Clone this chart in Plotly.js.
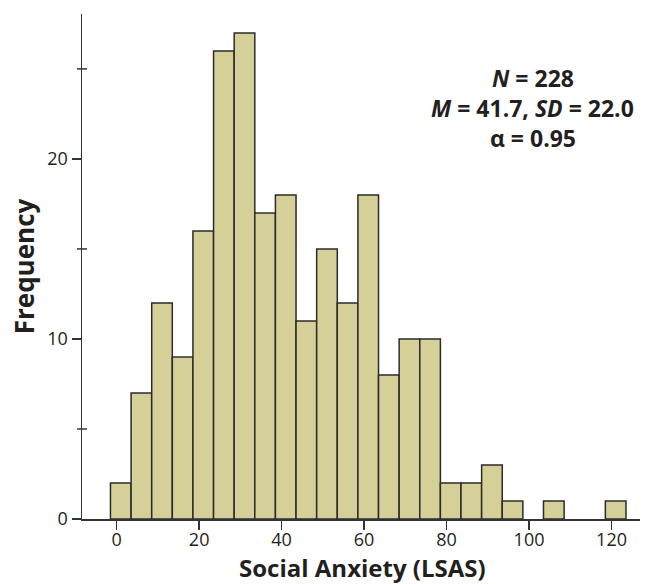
<!DOCTYPE html>
<html>
<head>
<meta charset="utf-8">
<script src="https://cdn.plot.ly/plotly-3.0.1.min.js"></script>
<style>html,body{margin:0;padding:0;background:#fff;}#chart{width:646px;height:584px;}</style>
</head>
<body>
<div id="chart"></div>
<script>
// Histogram bins (centres, LSAS score) and frequencies
const binCenters = [1, 6, 11, 16, 21, 26, 31, 36, 41, 46, 51, 56, 61, 66, 71, 76, 81, 86, 91, 96, 101, 106, 111, 116, 121];
const frequencies = [2, 7, 12, 9, 16, 26, 27, 17, 18, 11, 15, 12, 18, 8, 10, 10, 2, 2, 3, 1, 0, 1, 0, 0, 1];
const xTickVals = [0, 20, 40, 60, 80, 100, 120];
const yTickVals = [0, 10, 20];
const yMinorTickVals = [5, 15, 25];
const statLines = ["<b><i>N</i> = 228</b>", "<b><i>M</i> = 41.7, <i>SD</i> = 22.0</b>", "<b>α = 0.95</b>"];
const xTitle = "<b>Social Anxiety (LSAS)</b>";
const yTitle = "<b>Frequency</b>";

const FONT = "Open Sans, Liberation Sans, sans-serif";
const INK = "#231f20";

const trace = {
  type: "bar",
  x: binCenters,
  y: frequencies.map(v => v === 0 ? null : v),
  width: 5,
  marker: {color: "#d5d097", line: {color: "#2b2b2b", width: 1.5}},
  hoverinfo: "x+y"
};

const statYs = [0.873, 0.814, 0.755];
const annotations = statLines.map((t, i) => ({
  text: t, xref: "paper", yref: "paper", x: 0.808, y: statYs[i],
  xanchor: "center", yanchor: "middle", showarrow: false,
  font: {family: FONT, size: 23, color: INK}
}));
annotations.push({
  text: xTitle, xref: "paper", yref: "paper", x: 0.503, y: -0.0955,
  xanchor: "center", yanchor: "middle", showarrow: false, borderpad: 0,
  font: {family: FONT, size: 24, color: INK}
});

// minor y ticks crossing the axis line (drawn as short pixel-sized segments)
const shapes = yMinorTickVals.map(v => ({
  type: "line", xref: "paper", yref: "y", xsizemode: "pixel", xanchor: 0,
  x0: -5, x1: 5, y0: v, y1: v,
  line: {color: "#333", width: 1.5}, layer: "above"
}));

const layout = {
  width: 646, height: 584,
  margin: {l: 82, r: 6, t: 14, b: 65},
  paper_bgcolor: "#fff", plot_bgcolor: "#fff",
  showlegend: false,
  bargap: 0,
  font: {family: FONT, color: INK},
  xaxis: {
    range: [-8.4, 126.9],
    tickvals: xTickVals,
    ticks: "outside", ticklen: 9, tickwidth: 1.5, tickcolor: "#333",
    ticklabelstandoff: -5,
    showline: true, linecolor: "#333", linewidth: 1.5,
    showgrid: false, zeroline: false,
    tickfont: {family: FONT, size: 18, color: INK}
  },
  yaxis: {
    range: [0, 28.05],
    tickvals: yTickVals,
    ticks: "outside", ticklen: 9, tickwidth: 1.5, tickcolor: "#333",
    showline: true, linecolor: "#333", linewidth: 1.5,
    showgrid: false, zeroline: false,
    tickfont: {family: FONT, size: 18, color: INK},
    title: {text: yTitle, font: {family: FONT, size: 26, color: INK}, standoff: 5}
  },
  shapes: shapes,
  annotations: annotations
};

Plotly.newPlot("chart", [trace], layout, {displayModeBar: false, staticPlot: true});
</script>
</body>
</html>
